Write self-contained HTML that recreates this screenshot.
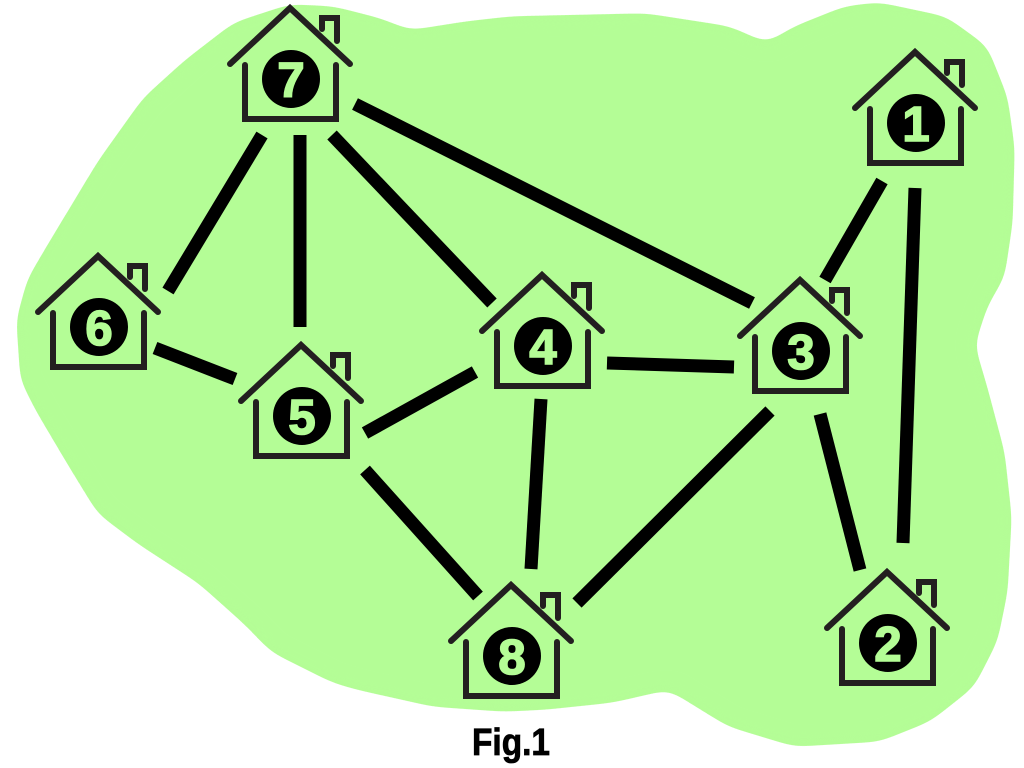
<!DOCTYPE html>
<html>
<head>
<meta charset="utf-8">
<style>
  html,body{margin:0;padding:0;background:#ffffff;}
  svg{display:block;}
  .roof,.wall,.chim{fill:none;stroke:#231f20;stroke-width:6;}
  .roof{stroke-linecap:round;stroke-linejoin:miter;}
  .wall{stroke-linecap:round;stroke-linejoin:miter;}
  .chim{stroke-linecap:round;stroke-linejoin:miter;}
  .num{font-family:"Liberation Sans",sans-serif;font-weight:bold;font-size:49px;fill:#b4fd96;stroke:#b4fd96;stroke-width:1.6;text-anchor:middle;}
  .edge{stroke:#000;stroke-width:13;stroke-linecap:butt;}
</style>
</head>
<body>
<svg width="1024" height="768" viewBox="0 0 1024 768" xmlns="http://www.w3.org/2000/svg">
  <defs>
    <filter id="smooth" x="-5%" y="-5%" width="110%" height="110%" color-interpolation-filters="sRGB">
      <feGaussianBlur stdDeviation="9"/>
      <feColorMatrix type="matrix" values="1 0 0 0 0  0 1 0 0 0  0 0 1 0 0  0 0 0 40 -20"/>
    </filter>
  </defs>
  <!-- green blob -->
  <g filter="url(#smooth)">
  <polygon fill="#b4fd96" stroke="#b4fd96" stroke-width="6" stroke-linejoin="round"
    points="145,100 187,62 200,52 235,25 290,7 333,9 380,21 410,33 467,24 512,19 645,16 729,29 767,46 795,29 845,9 879,5 945,19 985,48 1005,98 1012,148 1010,222 1002,276 985,305 972,345 985,389 1002,453 1009,517 1005,591 995,640 972,685 929,719 879,739 795,744 729,724 669,687 612,700 545,707 504,709 433,704 357,687 333,680 273,650 247,623 200,581 140,542 100,512 70,463 38,409 23,379 19,320 30,280 50,246 100,163"/>
  </g>

  <!-- edges -->
  <line class="edge" x1="355" y1="104" x2="752" y2="303"/>
  <line class="edge" x1="262" y1="135" x2="168" y2="291"/>
  <line class="edge" x1="300" y1="135" x2="300" y2="327"/>
  <line class="edge" x1="332" y1="135" x2="492" y2="303"/>
  <line class="edge" x1="155" y1="348" x2="235" y2="379"/>
  <line class="edge" x1="365" y1="433" x2="475" y2="372"/>
  <line class="edge" x1="365" y1="470" x2="478" y2="596"/>
  <line class="edge" x1="607" y1="363" x2="734" y2="367"/>
  <line class="edge" x1="541" y1="399" x2="531" y2="569"/>
  <line class="edge" x1="770" y1="411" x2="577" y2="603"/>
  <line class="edge" x1="882" y1="181" x2="825" y2="280"/>
  <line class="edge" x1="915" y1="188" x2="903" y2="543"/>
  <line class="edge" x1="820" y1="414" x2="860" y2="570"/>

  <!-- houses: apex at translate point -->
  <g transform="translate(290,8)">
    <polyline class="roof" points="-60,56 0,0 60,56"/>
    <path class="wall" d="M-45,57 V111 H46 V57"/>
    <path class="chim" d="M32,21 V10 H47 V33"/>
    <circle cx="1" cy="71" r="29" fill="#000"/>
    <text class="num" x="1" y="89">7</text>
  </g>
  <g transform="translate(915,52)">
    <polyline class="roof" points="-60,56 0,0 60,56"/>
    <path class="wall" d="M-45,57 V111 H46 V57"/>
    <path class="chim" d="M32,21 V10 H47 V33"/>
    <circle cx="1" cy="71" r="29" fill="#000"/>
    <text class="num" x="1" y="89">1</text>
  </g>
  <g transform="translate(98,256)">
    <polyline class="roof" points="-60,56 0,0 60,56"/>
    <path class="wall" d="M-45,57 V111 H46 V57"/>
    <path class="chim" d="M32,21 V10 H47 V33"/>
    <circle cx="1" cy="71" r="29" fill="#000"/>
    <text class="num" x="1" y="89">6</text>
  </g>
  <g transform="translate(301,345)">
    <polyline class="roof" points="-60,56 0,0 60,56"/>
    <path class="wall" d="M-45,57 V111 H46 V57"/>
    <path class="chim" d="M32,21 V10 H47 V33"/>
    <circle cx="1" cy="71" r="29" fill="#000"/>
    <text class="num" x="1" y="89">5</text>
  </g>
  <g transform="translate(542,275)">
    <polyline class="roof" points="-60,56 0,0 60,56"/>
    <path class="wall" d="M-45,57 V111 H46 V57"/>
    <path class="chim" d="M32,21 V10 H47 V33"/>
    <circle cx="1" cy="71" r="29" fill="#000"/>
    <text class="num" x="1" y="89">4</text>
  </g>
  <g transform="translate(800,280)">
    <polyline class="roof" points="-60,56 0,0 60,56"/>
    <path class="wall" d="M-45,57 V111 H46 V57"/>
    <path class="chim" d="M32,21 V10 H47 V33"/>
    <circle cx="1" cy="71" r="29" fill="#000"/>
    <text class="num" x="1" y="89">3</text>
  </g>
  <g transform="translate(887,572)">
    <polyline class="roof" points="-60,56 0,0 60,56"/>
    <path class="wall" d="M-45,57 V111 H46 V57"/>
    <path class="chim" d="M32,21 V10 H47 V33"/>
    <circle cx="1" cy="71" r="29" fill="#000"/>
    <text class="num" x="1" y="89">2</text>
  </g>
  <g transform="translate(511,585)">
    <polyline class="roof" points="-60,56 0,0 60,56"/>
    <path class="wall" d="M-45,57 V111 H46 V57"/>
    <path class="chim" d="M32,21 V10 H47 V33"/>
    <circle cx="1" cy="71" r="29" fill="#000"/>
    <text class="num" x="1" y="89">8</text>
  </g>

  <!-- caption -->
  <text x="472" y="755" font-family="Liberation Sans, sans-serif" font-weight="bold" font-size="38" fill="#000" stroke="#000" stroke-width="0.8" textLength="78" lengthAdjust="spacingAndGlyphs">Fig.1</text>
</svg>
</body>
</html>
